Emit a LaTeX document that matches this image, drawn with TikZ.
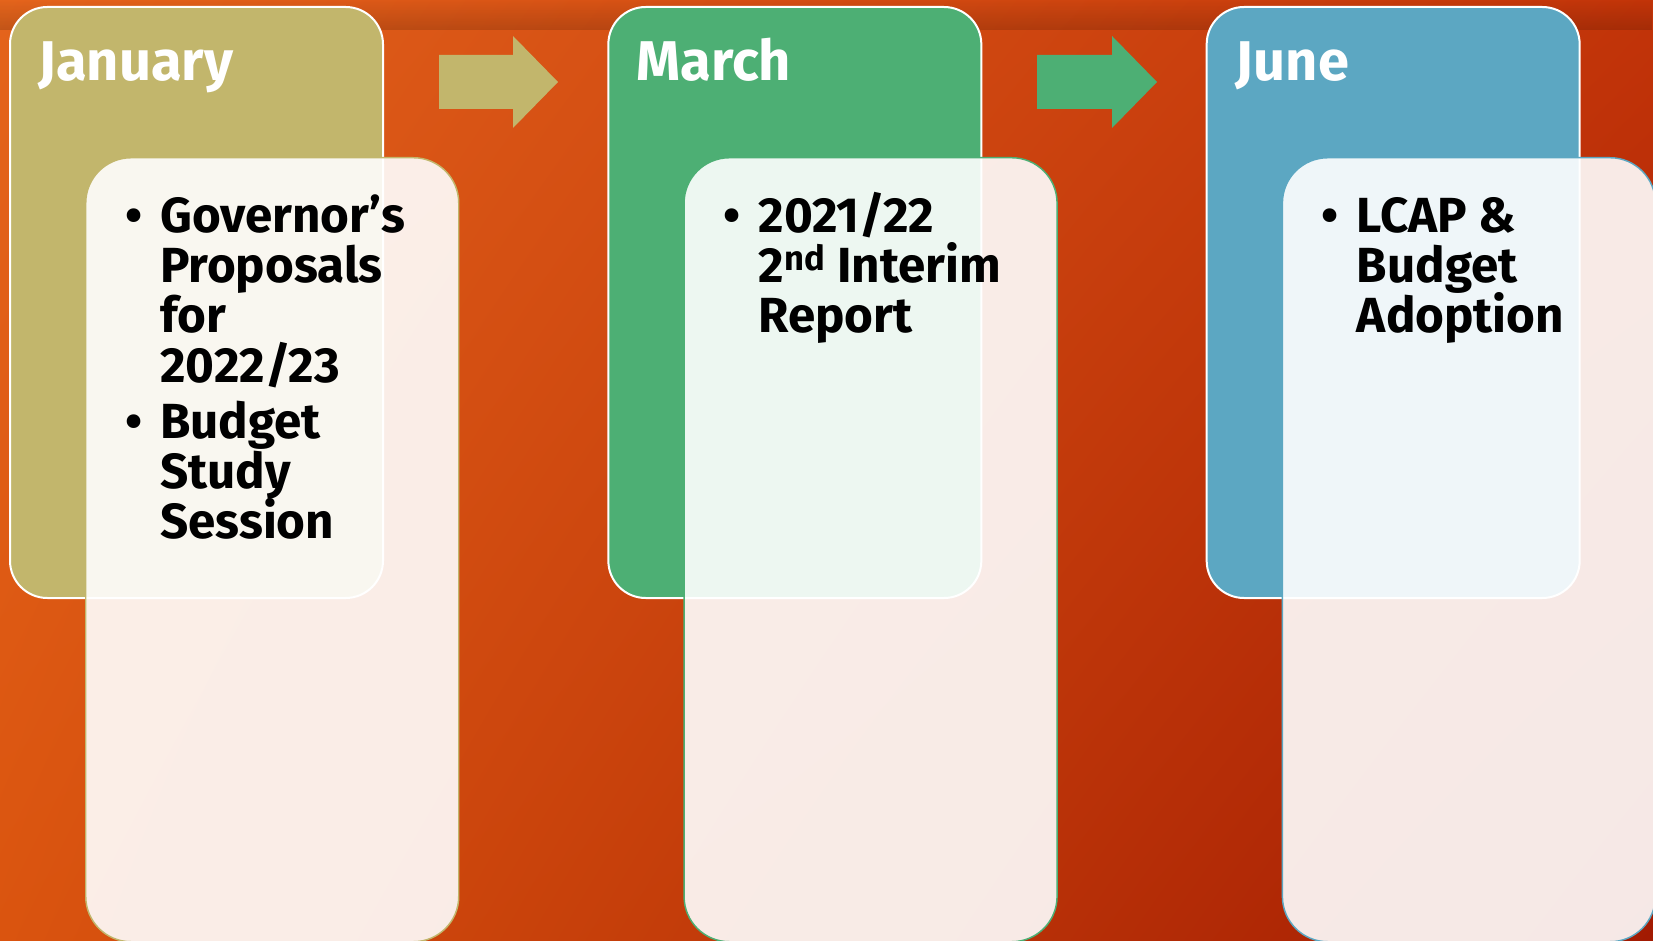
\documentclass[tikz,border=0pt]{standalone}
\usepackage{fontspec}
\setmainfont{Fira Sans}
\usetikzlibrary{positioning,calc,fadings,shadings}

\definecolor{janfill}{HTML}{C2B66C}
\definecolor{marfill}{HTML}{4DAF74}
\definecolor{junfill}{HTML}{5CA7C2}
\definecolor{bgul}{HTML}{E4641C}
\definecolor{bgur}{HTML}{C23409}
\definecolor{bgll}{HTML}{DA540F}
\definecolor{bglr}{HTML}{A21A02}

% one bulleted entry of a card, later lines hang under the first word
\newcommand\cardpoint[1]{\par\hangindent=26.25pt\hangafter=1\noindent
  \makebox[26.25pt][l]{\textbullet}#1\par}

\begin{document}
\begin{tikzpicture}[
  x=0.75pt, y=-0.75pt,
  node distance=167.5pt,
  head/.style={draw=white,line width=1.5pt,rounded corners=28pt,inner sep=0pt,
    minimum width=279.75pt,minimum height=443.25pt},
  body/.style={fill=white,fill opacity=0.9,line width=1.1pt,rounded corners=34pt,
    inner sep=0pt,minimum width=279.75pt,minimum height=588pt},
  ttl/.style={text=white,font=\bfseries\fontsize{42}{45}\selectfont,inner sep=0pt,anchor=base west},
  lst/.style={font=\bfseries\fontsize{37}{37.5}\selectfont,inner sep=0pt,anchor=base west}
]
\useasboundingbox (0,0) rectangle (1653,941);
% background
\shade[upper left=bgul,upper right=bgur,lower left=bgll,lower right=bglr] (0,0) rectangle (1653,941);
\fill[black,fill opacity=0.15,path fading=north] (0,0) rectangle (1653,30);

% month headers
\node[head,fill=janfill] (jan) at (196.5,302.5) {};
\node[head,fill=marfill,right=of jan] (mar) {};
\node[head,fill=junfill,right=of mar] (jun) {};

\node[ttl] (jantitle) at ($(jan.north west)+(29,75)$) {January};
\node[ttl] (martitle) at ($(mar.north west)+(29,75)$) {March};
\node[ttl] (juntitle) at ($(jun.north west)+(30,75)$) {June};

% arrows between months
\fill[janfill] (439,55) -- (513,55) -- (513,36) -- (558,82) -- (513,128) -- (513,109) -- (439,109) -- cycle;
\fill[marfill] (1037,55) -- (1112,55) -- (1112,36) -- (1157,82) -- (1112,128) -- (1112,109) -- (1037,109) -- cycle;

% detail cards
\node[body,draw=janfill,anchor=north west] (janbody) at ($(jan.north west)+(76,151)$) {};
\node[body,draw=marfill,anchor=north west] (marbody) at ($(mar.north west)+(76,151)$) {};
\node[body,draw=junfill,anchor=north west] (junbody) at ($(jun.north west)+(76,151)$) {};

\node[lst] (janlist) at ($(janbody.north west)+(40,76)$) {%
  \parbox[t]{250pt}{\lineskiplimit=-50pt
  \cardpoint{Governor’s\\Proposals\\for\\2022/23}
  \vspace{4.5pt}
  \cardpoint{Budget\\Study\\Session}}};
\node[lst] (marlist) at ($(marbody.north west)+(40,76)$) {%
  \parbox[t]{250pt}{\lineskiplimit=-50pt
  \cardpoint{2021/22\\2\textsuperscript{nd} Interim\\Report}}};
\node[lst] (junlist) at ($(junbody.north west)+(40,76)$) {%
  \parbox[t]{250pt}{\lineskiplimit=-50pt
  \cardpoint{LCAP \&\\Budget\\Adoption}}};
\end{tikzpicture}
\end{document}
